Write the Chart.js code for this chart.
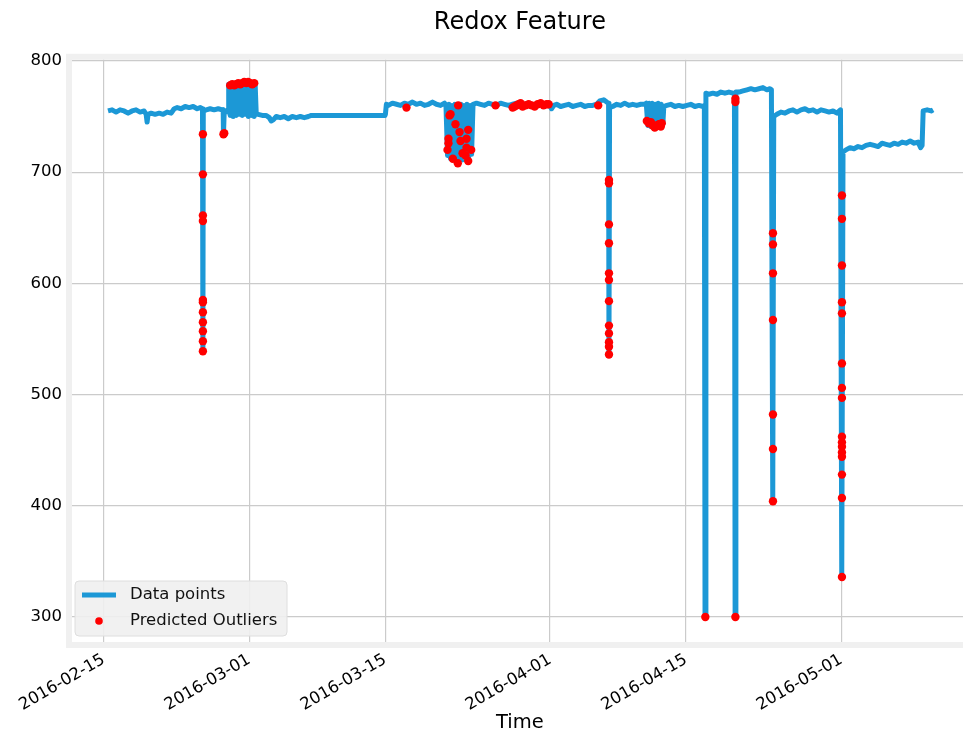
<!DOCTYPE html>
<html>
<head>
<meta charset="utf-8">
<script src="https://cdn.jsdelivr.net/npm/chart.js@4.4.1/dist/chart.umd.min.js"></script>
<style>
  html, body { margin: 0; padding: 0; background: #ffffff; overflow: hidden; }
</style>
</head>
<body>
<!-- canvas is a little wider than the window: the plot runs past the right edge like the original -->
<canvas id="redoxChart" width="972" height="733"></canvas>
<script>
// days are counted from this date
const startDate = '2016-02-15';

// x axis tick labels (dates)
const tickLabels = ['2016-02-15', '2016-03-01', '2016-03-15', '2016-04-01', '2016-04-15', '2016-05-01'];
// y axis tick values
const yTicks = [300, 400, 500, 600, 700, 800];

// redox readings: time (days since startDate) and value
const lineDays = [
  0.44, 0.86, 1.27, 1.68, 2.10, 2.51, 2.92, 3.33, 3.75, 4.16,
  4.37, 4.47, 4.57, 4.88, 5.29, 5.71, 6.12, 6.53, 6.95, 7.26,
  7.57, 7.98, 8.39, 8.80, 9.22, 9.63, 9.94, 10.18, 10.22, 10.26,
  10.56, 10.97, 11.38, 11.80, 12.21, 12.31, 12.34, 12.42, 12.62, 12.83,
  12.88, 13.03, 13.19, 13.34, 13.50, 13.65, 13.81, 13.96, 14.12, 14.27,
  14.43, 14.58, 14.74, 14.89, 15.05, 15.20, 15.36, 15.51, 15.61, 15.72,
  15.92, 16.34, 16.75, 17.06, 17.26, 17.47, 17.78, 18.19, 18.61, 19.02,
  19.43, 19.85, 20.26, 20.67, 21.09, 21.40, 28.98, 29.03, 29.13, 29.34,
  29.75, 30.17, 30.58, 30.99, 31.40, 31.82, 32.23, 32.64, 33.06, 33.47,
  33.88, 34.29, 34.71, 35.12,
  35.27, 35.43, 35.58, 35.74, 35.89, 36.05, 36.20, 36.36, 36.51, 36.67,
  36.82, 36.98, 37.13, 37.29, 37.44, 37.60, 37.75, 37.91, 38.06,
  38.42, 38.83, 39.25, 39.66, 40.07, 40.49, 40.90, 41.31, 41.72, 42.14,
  42.55, 42.96, 43.38, 43.79, 44.20, 44.61, 45.03, 45.44, 45.85, 46.16,
  46.37, 46.68, 47.09, 47.50, 47.91, 48.33, 48.74, 49.15, 49.57, 49.98,
  50.39, 50.81, 51.12, 51.53, 51.84, 52.03, 52.07, 52.13, 52.46, 52.87,
  53.28, 53.69, 54.11, 54.52, 54.93, 55.35, 55.76,
  55.91, 56.07, 56.22, 56.38, 56.53, 56.69, 56.84, 57.00, 57.15, 57.31, 57.46, 57.62,
  57.72, 58.03, 58.44, 58.86, 59.27, 59.68, 60.10, 60.50, 60.92, 61.34,
  61.75, 61.90, 61.97, 62.06, 62.37, 62.78, 63.20, 63.61, 64.02, 64.43,
  64.85, 65.00, 65.07, 65.15, 65.46, 65.88, 66.29, 66.70, 67.11, 67.53,
  67.94, 68.35, 68.66, 68.81, 68.95, 69.05, 69.38, 69.79, 70.21, 70.62,
  71.03, 71.44, 71.86, 72.27, 72.68, 73.10, 73.51, 73.92, 74.34, 74.75,
  75.16, 75.57, 75.93, 76.06, 76.19, 76.49, 76.91, 77.32, 77.74, 78.15,
  78.56, 78.98, 79.39, 79.80, 80.21, 80.63, 81.04, 81.45, 81.87, 82.28,
  82.69, 83.11, 83.52, 83.93, 84.19, 84.34, 84.45, 84.86, 85.27, 85.48
];
const lineValues = [
  755, 756, 754, 756, 755, 753, 755, 756, 754, 755,
  752, 745, 752, 753, 752, 753, 752, 754, 753, 757,
  758, 757, 759, 758, 759, 757, 758, 757, 539, 755,
  756, 757, 756, 757, 756, 756, 734, 755, 755, 754,
  779, 751, 778, 750, 779, 751, 780, 752, 779, 751,
  780, 752, 781, 750, 780, 751, 779, 750, 778, 752,
  752, 751, 751, 749, 746, 747, 750, 749, 750, 748,
  750, 749, 750, 749, 750, 751, 751, 752, 761, 760,
  762, 761, 760, 762, 761, 763, 761, 762, 760, 761,
  763, 761, 760, 762,
  760, 715, 761, 712, 760, 714, 761, 710, 760, 713,
  761, 711, 760, 714, 761, 712, 760, 716, 761,
  762, 761, 760, 762, 761, 760, 762, 761, 760, 761,
  762, 760, 761, 762, 760, 761, 762, 760, 761, 757,
  760, 761, 759, 760, 761, 759, 760, 761, 759, 760,
  760, 761, 764, 765, 763, 762, 536, 758, 759, 761,
  760, 762, 760, 761, 760, 761, 761,
  762, 742, 762, 741, 762, 740, 761, 741, 762, 742, 761, 743,
  759, 760, 761, 759, 760, 759, 760, 761, 759, 760,
  759, 760, 300, 771, 770, 771, 770, 772, 771, 772,
  771, 771, 300, 772, 772, 773, 774, 775, 774, 775,
  776, 774, 775, 774, 404, 750, 752, 754, 753, 755,
  756, 754, 756, 757, 755, 756, 754, 756, 755, 754,
  755, 753, 756, 336, 718, 720, 722, 721, 723, 722,
  724, 725, 724, 723, 726, 725, 724, 726, 725, 727,
  726, 728, 726, 727, 722, 724, 755, 756, 755, 756
];

// predicted outliers: time (days since startDate) and value
const outlierDays = [
  10.22, 10.22, 10.22, 10.22, 10.22, 10.22, 10.22, 10.22, 10.22, 10.22, 10.22,
  12.34, 12.42,
  13.03, 13.24, 13.45, 13.65, 13.86, 14.07, 14.27, 14.48, 14.69, 14.89, 15.10, 15.30, 15.51,
  31.20,
  35.64, 35.74, 36.53, 36.25, 36.67, 37.56, 35.53, 35.53, 35.43, 36.77, 37.39, 37.39,
  37.87, 36.98, 35.98, 36.49, 37.56, 37.29,
  40.38,
  42.14, 42.34, 42.55, 42.76, 42.96, 43.17, 43.48, 43.79, 44.10, 44.41, 44.72, 45.03, 45.33, 45.64, 45.85,
  50.96,
  52.07, 52.07, 52.07, 52.07, 52.07, 52.07, 52.07, 52.07, 52.07, 52.07, 52.07, 52.07,
  55.97, 56.18, 56.38, 56.59, 56.79, 57.00, 57.21, 57.41, 57.51,
  62.00, 65.10, 65.10, 65.10,
  68.97, 68.97, 68.97, 68.97, 68.97, 68.97, 68.97,
  76.08, 76.08, 76.08, 76.08, 76.08, 76.08, 76.08, 76.08,
  76.08, 76.08, 76.08, 76.08, 76.08, 76.08, 76.08, 76.08
];
const outlierValues = [
  734, 698, 661, 656, 585, 583, 574, 565, 557, 548, 539,
  734, 735,
  778, 779, 778, 779, 780, 779, 780, 781, 780, 781, 780, 779, 780,
  758,
  751, 752, 760, 743, 736, 738, 730, 726, 720, 728, 730, 722,
  720, 717, 712, 708, 710, 715,
  760,
  758, 759, 760, 761, 762, 759, 760, 761, 760, 759, 761, 762, 760, 761, 761,
  760,
  693, 690, 653, 636, 609, 603, 584, 562, 555, 547, 543, 536,
  746, 744, 745, 742, 740, 742, 743, 741, 744,
  300, 300, 766, 763,
  645, 635, 609, 567, 482, 451, 404,
  679, 658, 616, 583, 573, 528, 506, 497,
  462, 457, 453, 448, 444, 428, 407, 336
];

const dayMs = 24 * 3600 * 1000;
const tickDays = tickLabels.map(d => (Date.parse(d) - Date.parse(startDate)) / dayMs);

const blue = '#1c98d6';
const font = 'DejaVu Sans';

// light grey band around the plotting area, white inside
const framePlugin = {
  id: 'frame',
  beforeDraw(chart) {
    const { ctx, chartArea: a } = chart;
    ctx.save();
    ctx.fillStyle = '#f0f0f0';
    ctx.fillRect(a.left - 6, a.top - 6, a.right - a.left + 12, a.bottom - a.top + 12);
    ctx.fillStyle = '#ffffff';
    ctx.fillRect(a.left, a.top, a.right - a.left, a.bottom - a.top);
    ctx.restore();
  }
};

// legend drawn inside the lower left corner
const legendPlugin = {
  id: 'innerLegend',
  afterDraw(chart) {
    const { ctx, chartArea: a } = chart;
    const x = a.left + 3, y = a.bottom - 61, w = 212, h = 55;
    ctx.save();
    ctx.beginPath();
    ctx.roundRect(x, y, w, h, 4);
    ctx.fillStyle = 'rgba(240,240,240,0.9)';
    ctx.fill();
    ctx.strokeStyle = '#dedede';
    ctx.lineWidth = 1;
    ctx.stroke();

    ctx.strokeStyle = blue;
    ctx.lineWidth = 5;
    ctx.beginPath();
    ctx.moveTo(x + 7, y + 14);
    ctx.lineTo(x + 41, y + 14);
    ctx.stroke();

    ctx.fillStyle = '#ff0000';
    ctx.beginPath();
    ctx.arc(x + 24, y + 40, 3.8, 0, Math.PI * 2);
    ctx.fill();

    ctx.fillStyle = '#111111';
    ctx.font = '16.5px "' + font + '"';
    ctx.textBaseline = 'middle';
    ctx.fillText('Data points', x + 55, y + 14);
    ctx.fillText('Predicted Outliers', x + 55, y + 40);
    ctx.restore();
  }
};

const ctx = document.getElementById('redoxChart').getContext('2d');
new Chart(ctx, {
  type: 'line',
  data: {
    datasets: [
      {
        type: 'scatter',
        label: 'Predicted Outliers',
        data: outlierDays.map((d, i) => ({ x: d, y: outlierValues[i] })),
        backgroundColor: '#ff0000',
        borderWidth: 0,
        pointRadius: 4.2,
        order: 0
      },
      {
        label: 'Data points',
        data: lineDays.map((d, i) => ({ x: d, y: lineValues[i] })),
        borderColor: blue,
        borderWidth: 5,
        borderJoinStyle: 'round',
        pointRadius: 0,
        tension: 0,
        fill: false,
        order: 1
      }
    ]
  },
  options: {
    responsive: false,
    animation: false,
    events: [],
    layout: { padding: 0 },
    scales: {
      x: {
        type: 'linear',
        min: -3.27,
        max: 89.05,
        afterBuildTicks: scale => { scale.ticks = tickDays.map(v => ({ value: v })); },
        afterFit: scale => {
          scale.height = 91;
          scale.paddingLeft = 0;
          scale.paddingRight = 0;
        },
        border: { display: false },
        grid: { color: '#cbcbcb', lineWidth: 1.2, drawTicks: false },
        ticks: {
          autoSkip: false,
          maxRotation: 30,
          minRotation: 30,
          padding: 8,
          color: '#000000',
          font: { family: font, size: 16.5 },
          callback: (value, index) => tickLabels[index]
        },
        title: {
          display: true,
          text: 'Time',
          color: '#000000',
          font: { family: font, size: 19.5 },
          padding: { top: 0, bottom: -2 }
        }
      },
      y: {
        min: 277.5,
        max: 801,
        afterBuildTicks: scale => { scale.ticks = yTicks.map(v => ({ value: v })); },
        afterFit: scale => { scale.width = 72; },
        border: { display: false },
        grid: { color: '#cbcbcb', lineWidth: 1.2, drawTicks: false },
        ticks: {
          padding: 10,
          color: '#000000',
          font: { family: font, size: 16.5 }
        }
      }
    },
    plugins: {
      legend: { display: false },
      tooltip: { enabled: false },
      title: {
        display: true,
        text: 'Redox Feature',
        fullSize: false,
        color: '#000000',
        font: { family: font, size: 24, weight: 'normal' },
        padding: { top: 8, bottom: 23 }
      }
    }
  },
  plugins: [framePlugin, legendPlugin]
});
</script>
</body>
</html>
